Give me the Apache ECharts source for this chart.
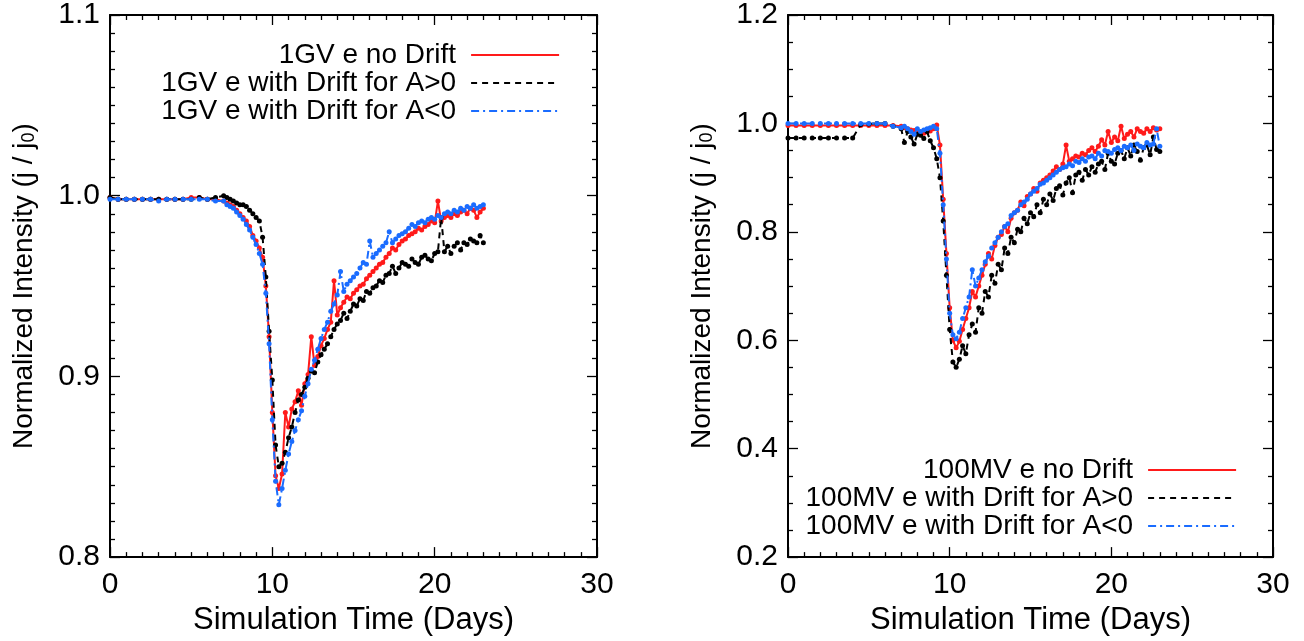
<!DOCTYPE html>
<html>
<head>
<meta charset="utf-8">
<script src="https://cdn.jsdelivr.net/npm/echarts@6/dist/echarts.min.js"></script>
<style>
html,body{margin:0;padding:0;background:#fff;}
#chart{width:1304px;height:641px;}
</style>
</head>
<body>
<div id="chart"></div>
<script>
// Shared simulation times (days)
var times = [0,0.5,1,1.5,2,2.5,3,3.5,4,4.5,5,5.5,6,6.5,7,
  7.2,7.4,7.6,7.8,8.0, 8.2,8.4,8.6,8.8,9.0, 9.2,9.4,9.6,9.8,10.0,
  10.2,10.4,10.6,10.8,11.0, 11.2,11.4,11.6,11.8,12.0, 12.2,12.4,12.6,12.8,13.0,
  13.2,13.4,13.6,13.8,14.0, 14.2,14.4,14.6,14.8,15.0, 15.2,15.4,15.6,15.8,16.0,
  16.2,16.4,16.6,16.8,17.0, 17.2,17.4,17.6,17.8,18.0, 18.2,18.4,18.6,18.8,19.0,
  19.2,19.4,19.6,19.8,20.0, 20.2,20.4,20.6,20.8,21.0, 21.2,21.4,21.6,21.8,22.0,
  22.2,22.4,22.6,22.8,23.0];

// Left panel: 1GV electrons
var gvNoDrift = [0.999,0.998,0.998,0.998,0.998,0.998,0.998,0.998,0.998,0.998,0.999,0.999,0.998,0.998,0.997,
  0.996,0.995,0.994,0.992,0.990, 0.988,0.986,0.983,0.978,0.975, 0.971,0.966,0.950,0.922,0.880,
  0.845,0.838,0.846,0.880,0.872, 0.882,0.886,0.892,0.884,0.896, 0.901,0.922,0.906,0.911,0.917,
  0.921,0.926,0.930,0.953,0.934, 0.938,0.941,0.944,0.943,0.946, 0.948,0.950,0.951,0.954,0.956,
  0.958,0.960,0.962,0.963,0.966, 0.968,0.971,0.970,0.973,0.975, 0.976,0.978,0.979,0.980,0.982,
  0.981,0.983,0.984,0.986,0.985, 0.997,0.986,0.988,0.989,0.988, 0.990,0.989,0.991,0.992,0.990,
  0.993,0.992,0.988,0.991,0.993];
var gvDriftPos = [0.999,0.998,0.998,0.998,0.998,0.998,0.998,0.998,0.998,0.998,0.998,0.999,0.998,0.999,1.000,
  0.999,0.998,0.997,0.996,0.995, 0.995,0.994,0.992,0.990,0.988, 0.986,0.977,0.955,0.925,0.898,
  0.862,0.850,0.852,0.858,0.866, 0.872,0.880,0.887,0.890,0.894, 0.899,0.903,0.902,0.908,0.912,
  0.915,0.918,0.922,0.926,0.929, 0.931,0.935,0.932,0.936,0.940, 0.939,0.943,0.942,0.947,0.946,
  0.949,0.950,0.953,0.952,0.956, 0.957,0.961,0.957,0.960,0.963, 0.962,0.961,0.965,0.963,0.962,
  0.966,0.967,0.965,0.964,0.968, 0.969,0.988,0.969,0.972,0.968, 0.972,0.974,0.970,0.974,0.973,
  0.976,0.975,0.974,0.978,0.974];
var gvDriftNeg = [0.998,0.998,0.998,0.998,0.998,0.998,0.997,0.998,0.998,0.998,0.998,0.998,0.998,0.997,0.997,
  0.995,0.994,0.993,0.991,0.989, 0.987,0.984,0.981,0.977,0.973, 0.968,0.962,0.946,0.918,0.876,
  0.842,0.829,0.838,0.848,0.857, 0.864,0.870,0.876,0.881,0.889, 0.896,0.904,0.909,0.915,0.921,
  0.926,0.930,0.936,0.940,0.945, 0.958,0.947,0.951,0.953,0.955, 0.957,0.960,0.963,0.962,0.975,
  0.966,0.968,0.970,0.972,0.974, 0.980,0.974,0.976,0.978,0.979, 0.980,0.982,0.984,0.983,0.985,
  0.986,0.985,0.987,0.988,0.987, 0.989,0.988,0.990,0.991,0.990, 0.992,0.991,0.993,0.992,0.994,
  0.993,0.995,0.993,0.994,0.995];

// Right panel: 100MV electrons
var mvNoDrift = [0.996,0.996,0.996,0.996,0.996,0.996,0.996,0.996,0.996,0.996,0.996,0.996,0.996,0.996,0.995,
  0.992,0.990,0.988,0.987,0.985, 0.983,0.982,0.984,0.986,0.990, 0.997,0.960,0.860,0.760,0.660,
  0.600,0.586,0.598,0.620,0.640, 0.660,0.690,0.680,0.700,0.720, 0.740,0.760,0.750,0.775,0.790,
  0.795,0.810,0.800,0.825,0.835, 0.840,0.855,0.848,0.865,0.870, 0.880,0.875,0.890,0.895,0.900,
  0.905,0.912,0.920,0.915,0.925, 0.960,0.930,0.935,0.940,0.938, 0.945,0.942,0.950,0.955,0.948,
  0.958,0.970,0.960,0.985,0.965, 0.975,0.968,0.995,0.972,0.980, 0.985,0.975,0.990,0.985,0.982,
  0.990,0.985,0.992,0.988,0.990];
var mvDriftPos = [0.973,0.973,0.973,0.973,0.973,0.973,0.973,0.973,0.973,0.998,0.999,1.000,1.000,0.995,0.990,
  0.965,0.985,0.975,0.962,0.980, 0.978,0.972,0.985,0.968,0.955, 0.935,0.900,0.820,0.720,0.620,
  0.560,0.550,0.565,0.590,0.575, 0.610,0.630,0.615,0.660,0.650, 0.690,0.680,0.720,0.705,0.740,
  0.730,0.770,0.760,0.790,0.780, 0.805,0.800,0.825,0.815,0.835, 0.828,0.850,0.835,0.860,0.850,
  0.870,0.858,0.880,0.885,0.868, 0.890,0.900,0.872,0.905,0.910, 0.895,0.915,0.905,0.920,0.910,
  0.925,0.930,0.915,0.945,0.930, 0.925,0.945,0.950,0.935,0.955, 0.940,0.960,0.948,0.932,0.955,
  0.960,0.942,0.975,0.952,0.948];
var mvDriftNeg = [1.000,1.000,1.000,1.000,1.000,1.000,1.000,1.000,1.000,1.000,1.000,1.000,1.000,0.995,0.992,
  0.995,0.990,0.985,0.980,0.990, 0.985,0.988,0.990,0.992,0.995, 0.990,0.945,0.850,0.750,0.650,
  0.610,0.603,0.615,0.640,0.660, 0.680,0.730,0.700,0.715,0.730, 0.745,0.755,0.770,0.780,0.790,
  0.800,0.810,0.815,0.830,0.835, 0.840,0.850,0.855,0.860,0.870, 0.875,0.880,0.888,0.890,0.895,
  0.900,0.905,0.910,0.915,0.918, 0.920,0.925,0.922,0.930,0.928, 0.935,0.930,0.938,0.940,0.935,
  0.945,0.940,0.950,0.948,0.945, 0.952,0.955,0.950,0.958,0.955, 0.960,0.950,0.962,0.958,0.955,
  0.965,0.960,0.962,0.990,0.958];

var xTicks = [0, 10, 20, 30];
var leftNames = ['1GV e no Drift', '1GV e with Drift for A>0', '1GV e with Drift for A<0'];
var rightNames = ['100MV e no Drift', '100MV e with Drift for A>0', '100MV e with Drift for A<0'];

function pairs(arr){ return times.map(function(t,i){ return [t, arr[i]]; }); }

var FONT = "'Liberation Sans', Arial, Helvetica, sans-serif";
var RED = '#ff1a1a', BLACK = '#000000', BLUE = '#1a6cff';

function xAx(gi, top){
  return {
    type:'value', gridIndex:gi, min:xTicks[0], max:xTicks[xTicks.length-1], interval:10,
    position: top ? 'top' : 'bottom',
    name: top ? '' : 'Simulation Time (Days)', nameLocation:'middle', nameGap:44,
    nameTextStyle:{fontFamily:FONT, fontSize:31, color:'#000'},
    axisLine:{show:true, onZero:false, lineStyle:{color:'#000', width:2}},
    axisTick:{show:true, inside:true, length:10, lineStyle:{color:'#000', width:1.3}},
    minorTick:{show:true, splitNumber:10, length:5, lineStyle:{color:'#000', width:1.3}},
    axisLabel:{show:!top, margin:13, fontFamily:FONT, fontSize:30, color:'#000'},
    splitLine:{show:false}
  };
}
function yAx(gi, right, min, max, interval, minorSplit){
  return {
    type:'value', gridIndex:gi, min:min, max:max, interval:interval,
    position: right ? 'right' : 'left',
    name: right ? '' : 'Normalized Intensity (j / j{sub|0})', nameLocation:'middle', nameGap:72, nameRotate:90,
    nameTextStyle:{fontFamily:FONT, fontSize:28, color:'#000',
      rich:{sub:{fontFamily:FONT, fontSize:18, color:'#000', padding:[10,0,0,0]}}},
    axisLine:{show:true, onZero:false, lineStyle:{color:'#000', width:2}},
    axisTick:{show:true, inside:true, length:10, lineStyle:{color:'#000', width:1.3}},
    minorTick:{show:true, splitNumber:minorSplit, length:5, lineStyle:{color:'#000', width:1.3}},
    axisLabel:{show:!right, margin:10, fontFamily:FONT, fontSize:30, color:'#000',
      formatter:function(v){ return v.toFixed(1); }},
    splitLine:{show:false}
  };
}
function ser(name, arr, color, dash, xi, yi, z){
  return {
    type:'line', name:name, data:pairs(arr), xAxisIndex:xi, yAxisIndex:yi,
    symbol:'circle', symbolSize:5, showSymbol:true, z:z,
    lineStyle:{color:color, width:2, type:dash},
    itemStyle:{color:color},
    animation:false
  };
}
function legendOf(names, right, top){
  return {
    data:names, orient:'vertical', align:'right', right:right, top:top,
    itemWidth:88, itemHeight:14, itemGap:0,
    itemStyle:{opacity:0},
    lineStyle:{width:1.8},
    textStyle:{fontFamily:FONT, fontSize:28, color:'#000', lineHeight:24, padding:[0,10,0,0]},
    selectedMode:false
  };
}

var chart = echarts.init(document.getElementById('chart'), null, {renderer:'canvas'});
chart.setOption({
  backgroundColor:'#fff',
  animation:false,
  grid:[
    {left:110, top:12, width:487, height:546},
    {left:788, top:12, width:485, height:546}
  ],
  xAxis:[xAx(0,false), xAx(0,true), xAx(1,false), xAx(1,true)],
  yAxis:[yAx(0,false,0.8,1.1,0.1,10), yAx(0,true,0.8,1.1,0.1,10),
         yAx(1,false,0.2,1.2,0.2,4), yAx(1,true,0.2,1.2,0.2,4)],
  legend:[legendOf(leftNames, 739, 36), legendOf(rightNames, 62, 451)],
  series:[
    ser(leftNames[0], gvNoDrift, RED, 'solid', 0, 0, 2),
    ser(leftNames[1], gvDriftPos, BLACK, [6,5], 0, 0, 3),
    ser(leftNames[2], gvDriftNeg, BLUE, [8,4,2,4], 0, 0, 4),
    ser(rightNames[0], mvNoDrift, RED, 'solid', 2, 2, 2),
    ser(rightNames[1], mvDriftPos, BLACK, [6,5], 2, 2, 3),
    ser(rightNames[2], mvDriftNeg, BLUE, [8,4,2,4], 2, 2, 4)
  ]
});
</script>
</body>
</html>
